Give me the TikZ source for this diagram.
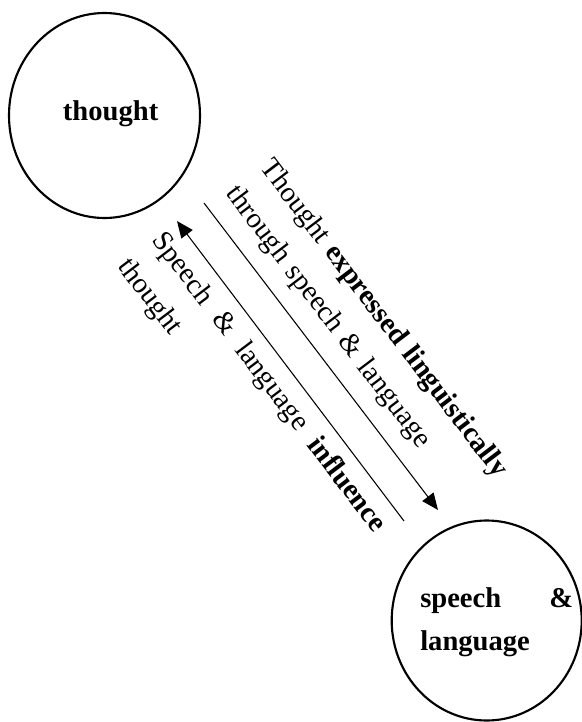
\documentclass[tikz,border=0pt]{standalone}
\usepackage{fontspec}
\setmainfont{Liberation Serif}
\usetikzlibrary{arrows.meta,shapes.geometric}
\setlength{\parindent}{0pt}
\begin{document}
\begin{tikzpicture}[x=0.75pt,y=-0.75pt,
  every node/.style={font=\fontsize{21.45pt}{32.25pt}\selectfont, inner sep=0pt},
  bubble/.style={draw, ellipse, line width=1.6pt},
  lbl/.style={anchor=base west},
  difflbl/.style={anchor=base west, rotate=-52.8, align=left},
  arr/.style={line width=0.8pt, -{Triangle[length=12.5pt,width=10.5pt]}}]
\useasboundingbox (0,0) rectangle (582,722);
% circles
\node[bubble, minimum width=143.25pt, minimum height=153.75pt] (thought) at (104.5,115.5) {};
\node[bubble, minimum width=142.5pt, minimum height=150pt] (speech) at (486.7,620.5) {};
\node[lbl] (thoughtlbl) at (62.7,120) {\textbf{thought}};
\node[lbl, text width=114.75pt] (speechlbl) at (420,607)
  {\hbox to \linewidth{\textbf{speech}\hfill\textbf{\&}}\\\textbf{language}};
% arrows
\coordinate (a1) at (204,203);
\coordinate (a2) at (438,510);
\coordinate (b1) at (404,521);
\coordinate (b2) at (177,221);
\draw[arr] (a1) -- (a2);
\draw[arr] (b1) -- (b2);
% diagonal labels
\node[difflbl, text width=310pt] (expr) at (259.5,167.5)
  {Thought \textbf{expressed linguistically}\\through speech \& language};
\node[difflbl, text width=276pt] (infl) at (151.2,240.5)
  {\hbox to \linewidth{Speech\hfill\&\hfill language\hfill\textbf{influence}}\\thought};
\end{tikzpicture}
\end{document}
